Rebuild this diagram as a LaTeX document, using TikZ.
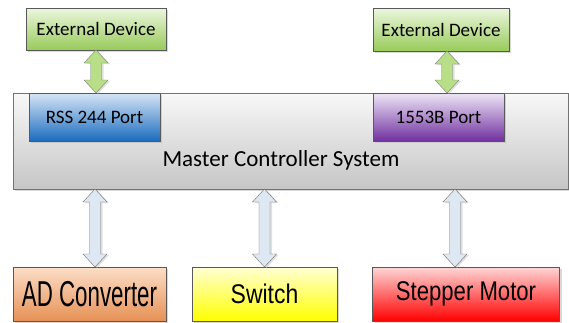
\documentclass[tikz,border=0pt]{standalone}
\usepackage{fontspec}
\setmainfont{Carlito}
\newfontfamily\devfont{Liberation Sans}
\usetikzlibrary{calc,shadows}

\definecolor{extTop}{RGB}{236,246,222}
\definecolor{extBot}{RGB}{152,203,90}
\definecolor{rssTop}{RGB}{214,230,246}
\definecolor{rssBot}{RGB}{28,108,190}
\definecolor{milTop}{RGB}{238,230,246}
\definecolor{milBot}{RGB}{112,48,160}
\definecolor{mcsTop}{RGB}{248,248,248}
\definecolor{mcsBot}{RGB}{198,198,198}
\definecolor{adcTop}{RGB}{252,222,200}
\definecolor{adcBot}{RGB}{230,145,85}
\definecolor{swTop}{RGB}{255,255,210}
\definecolor{swBot}{RGB}{255,255,0}
\definecolor{motTop}{RGB}{255,214,214}
\definecolor{motBot}{RGB}{255,0,0}
\definecolor{arrGreen}{RGB}{184,222,136}
\definecolor{arrBlue}{RGB}{222,232,243}

% squeezed device labels
\newcommand\devtext[3]{\scalebox{#1}[1]{\devfont\fontsize{#2}{#2}\selectfont #3}}

% fat two-headed arrow: style, upper node, lower node, point giving the shaft x
\newcommand\dblarrow[4]{%
  \draw[#1] let \p1=(#2.south), \p2=(#3.north), \p3=#4 in
    (\x3,\y1) -- (\x3+12pt,\y1-13pt) -- (\x3+5.5pt,\y1-13pt) -- (\x3+5.5pt,\y2+13pt)
    -- (\x3+12pt,\y2+13pt) -- (\x3,\y2) -- (\x3-12pt,\y2+13pt) -- (\x3-5.5pt,\y2+13pt)
    -- (\x3-5.5pt,\y1-13pt) -- (\x3-12pt,\y1-13pt) -- cycle;}

\tikzset{
  blk/.style={rectangle,draw=black!65,semithick,inner sep=0pt,outer sep=0pt,
    drop shadow={shadow xshift=2pt,shadow yshift=-2pt,fill=black!30,opacity=.5}},
  extbox/.style={blk,top color=extTop,bottom color=extBot,minimum width=140pt,
    minimum height=42pt,font=\fontsize{19}{22}\selectfont},
  portbox/.style={blk,minimum width=131pt,minimum height=48pt,font=\fontsize{19}{22}\selectfont},
  devbox/.style={blk,minimum height=54pt},
  linkup/.style={draw=black!50,fill=arrGreen,line join=miter,
    drop shadow={shadow xshift=2pt,shadow yshift=-1pt,fill=black!25,opacity=.5}},
  linkdown/.style={draw=black!55,fill=arrBlue,line join=miter,
    drop shadow={shadow xshift=2pt,shadow yshift=-1pt,fill=black!25,opacity=.5}}
}

\begin{document}
\begin{tikzpicture}[x=1pt,y=-1pt]
\useasboundingbox (0,0) rectangle (569,322);

\node[extbox] (extA) at (96,29) {External Device};
\node[extbox,minimum width=136pt,minimum height=43pt] (extB) at (441,29.5) {External Device};

\node[blk,top color=mcsTop,bottom color=mcsBot,draw=black!55,minimum width=555pt,
  minimum height=96pt] (master) at (290.5,141) {};
\node[portbox,top color=rssTop,bottom color=rssBot] (rss) at (94.5,117) {RSS 244 Port};
\node[portbox,top color=milTop,bottom color=milBot] (mil) at (438.5,117) {1553B Port};
\node[font=\fontsize{23}{26}\selectfont] (mastertxt) at (281,160) {Master Controller System};

\node[devbox,top color=adcTop,bottom color=adcBot,minimum width=153pt] (adc) at (89.5,294)
  {\devtext{0.62}{36}{AD Converter}};
\node[devbox,top color=swTop,bottom color=swBot,minimum width=145pt] (switch) at (264.5,294)
  {\devtext{0.85}{27}{Switch}};
\node[devbox,top color=motTop,bottom color=motBot,minimum width=187pt] (motor) at (466,294)
  {\devtext{0.82}{27}{Stepper Motor}};

\dblarrow{linkup}{extA}{master}{(extA.south)}
\dblarrow{linkup}{extB}{master}{([xshift=6pt]extB.south)}
\dblarrow{linkdown}{master}{adc}{([xshift=5.5pt]adc.north)}
\dblarrow{linkdown}{master}{switch}{(switch.north)}
\dblarrow{linkdown}{master}{motor}{([xshift=-11pt]motor.north)}
\end{tikzpicture}
\end{document}
